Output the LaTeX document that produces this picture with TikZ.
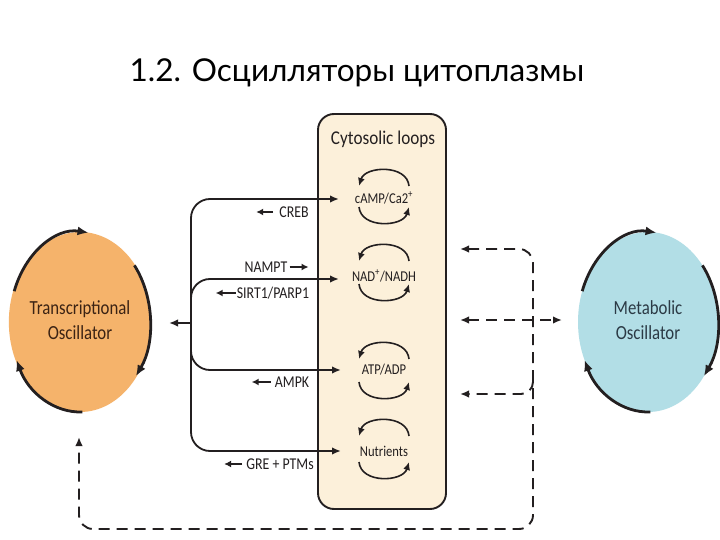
\documentclass[tikz,border=0pt]{standalone}
\usepackage{fontspec}
\usepackage{graphicx}
\setmainfont{Carlito}
\newfontfamily\titlefont{Lato}
\usetikzlibrary{arrows.meta,shapes.geometric,calc}
\definecolor{ink}{HTML}{231F20}
\definecolor{orng}{HTML}{F5B36B}
\definecolor{skyb}{HTML}{B2DEE6}
\definecolor{cream}{HTML}{FCF0DA}
\definecolor{brownt}{HTML}{3B2314}
\definecolor{bluet}{HTML}{2B3A45}
\newcommand\cz[1]{\scalebox{0.84}[1]{#1}}
\tikzset{
 conn/.style={line width=1.8pt, draw=ink, -{Latex[length=9pt,width=7.5pt]}},
 dconn/.style={line width=1.9pt, draw=ink, dash pattern=on 11pt off 7pt},
 dtip/.style={-{Latex[length=9pt,width=7.5pt]}},
 dtips/.style={{Latex[length=9pt,width=7.5pt]}-{Latex[length=9pt,width=7.5pt]}},
 oscarc/.style={line width=2.8pt, draw=ink, -{Latex[length=11pt,width=9pt]}},
 looparc/.style={line width=1.6pt, draw=ink, -{Latex[length=8pt,width=7pt]}},
 lab/.style={font=\fontsize{16.5}{18}\selectfont, text=ink, inner sep=0pt},
 labarrow/.style={line width=1.7pt, draw=ink, -{Latex[length=7pt,width=7pt]}},
 loopt/.style={font=\fontsize{15}{16}\selectfont, text=ink, inner sep=1pt},
 osc/.style={ellipse, minimum width=140pt, minimum height=180pt, inner sep=0pt, font=\fontsize{20}{25}\selectfont},
}
\newcommand\cycloop[3]{%
 \draw[looparc] ([shift={(25,-#2)}]#1.center) .. controls +(-2,-22) and +(6,-20) .. ([shift={(-25,-#2)}]#1.center);
 \draw[looparc] ([shift={(-25,#3)}]#1.center) .. controls +(2,22) and +(-6,20) .. ([shift={(25,#3)}]#1.center);
}
\begin{document}
\begin{tikzpicture}[x=1pt,y=-1pt]
\useasboundingbox[fill=white] (0,0) rectangle (720,540);

% title
\node[font=\titlefont\fontsize{31.5}{36}\selectfont, text=black] (title) at (357,73) {1.2. Осцилляторы цитоплазмы};

% oscillators
\node[osc, fill=orng, text=brownt] (T) at (80,322) {\cz{\begin{tabular}{@{}c@{}}Transcriptional\\[0pt]Oscillator\end{tabular}}};
\node[osc, fill=skyb, text=bluet] (M) at (648,322) {\cz{\begin{tabular}{@{}c@{}}Metabolic\\[0pt]Oscillator\end{tabular}}};

\foreach \n in {T,M}{
 \draw[oscarc] ([shift={(200:70 and 90)}]\n.center) arc[start angle=200, end angle=277, x radius=70, y radius=90];
 \draw[oscarc] ([shift={(-39:70 and 90)}]\n.center) arc[start angle=-39, end angle=37, x radius=70, y radius=90];
 \draw[oscarc] ([shift={(88:70 and 90)}]\n.center) arc[start angle=88, end angle=155, x radius=70, y radius=90];
}

% cytosolic box
\node[draw=ink, line width=1.9pt, fill=cream, rounded corners=16pt, minimum width=128pt, minimum height=395pt, inner sep=0pt] (box) at (382,311.5) {};
\node[font=\fontsize{19.5}{21}\selectfont, text=ink] (boxt) at (383,139) {\scalebox{0.88}[1]{Cytosolic loops}};

\node[loopt] (camp) at (384,198) {\cz{cAMP/Ca2\textsuperscript{+}}};
\node[loopt] (nad) at (384,276) {\cz{NAD\textsuperscript{+}/NADH}};
\node[loopt] (atp) at (384,370) {\cz{ATP/ADP}};
\node[loopt] (nut) at (384,451) {\cz{Nutrients}};
\cycloop{camp}{12}{9}
\cycloop{nad}{15}{8}
\cycloop{atp}{11}{12}
\cycloop{nut}{15}{11}

% left connectors
\coordinate (j) at (191,323);
\coordinate (tout) at (169,323);
\coordinate (a1) at (339,199);
\coordinate (a2) at (339,279);
\coordinate (a3) at (341,370);
\coordinate (a4) at (341,451);
\draw[conn, rounded corners=19pt] (j) |- (a1);
\draw[conn, rounded corners=19pt] (j) |- (a2);
\draw[conn, rounded corners=19pt] (j) |- (a3);
\draw[conn, rounded corners=19pt] (j) |- (a4);
\draw[conn] (j) -- (tout);

% labels
\node[lab] (creb) at (294,212) {\cz{CREB}};
\node[lab] (nampt) at (266,267) {\cz{NAMPT}};
\node[lab] (sirt) at (273,293) {\cz{SIRT1/PARP1}};
\node[lab] (ampk) at (292,382) {\cz{AMPK}};
\node[lab] (gre) at (280,464) {\cz{GRE + PTMs}};
\draw[labarrow] ([xshift=-6pt]creb.west) -- ++(-17,0);
\draw[labarrow] ([xshift=2pt]nampt.east) -- ++(19,0);
\draw[labarrow] ([xshift=-1pt]sirt.west) -- ++(-20,0);
\draw[labarrow] ([xshift=-4pt]ampk.west) -- ++(-19,0);
\draw[labarrow] ([xshift=-4pt]gre.west) -- ++(-18,0);

% right dashed connectors
\coordinate (r1) at (460,249);
\coordinate (r2) at (460,320);
\coordinate (r2b) at (562,320);
\coordinate (r3) at (460,394);
\coordinate (rv) at (533,380);
\coordinate (bl) at (79,437);
\draw[dconn, dtips, rounded corners=14pt]
  (r1) -- (533,249) -- (533,529) -- (79,529) -- (bl);
\draw[dconn, dtips] (r2) -- (r2b);
\draw[dconn, dtip, rounded corners=12pt] (rv) |- (r3);
\end{tikzpicture}
\end{document}
